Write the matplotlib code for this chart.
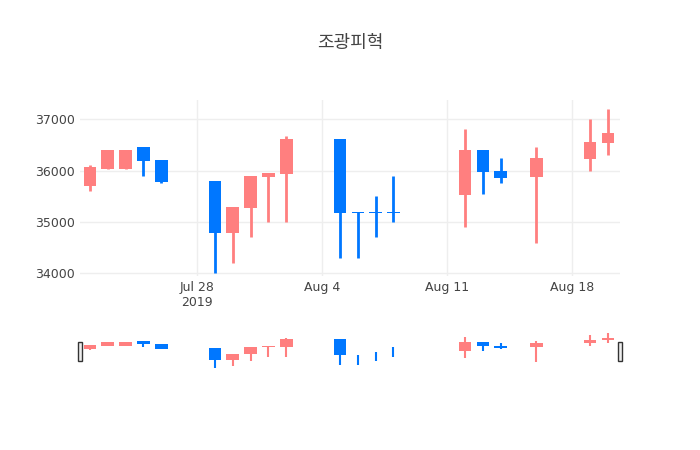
import datetime as dt
import matplotlib
matplotlib.use("Agg")
import matplotlib.pyplot as plt
import matplotlib.dates as mdates

dates = ["2019-07-22", "2019-07-23", "2019-07-24", "2019-07-25", "2019-07-26",
         "2019-07-29", "2019-07-30", "2019-07-31", "2019-08-01", "2019-08-02",
         "2019-08-05", "2019-08-06", "2019-08-07", "2019-08-08",
         "2019-08-12", "2019-08-13", "2019-08-14", "2019-08-16",
         "2019-08-19", "2019-08-20"]
opens = [35700, 36020, 36020, 36450, 36200, 35800, 34780, 35270, 35880, 35930,
         36610, 35200, 35200, 35200, 35530, 36400, 36000, 35870, 36230, 36530]
highs = [36100, 36400, 36400, 36450, 36200, 35800, 35300, 35900, 35960, 36680,
         36610, 35200, 35500, 35900, 36800, 36400, 36250, 36450, 37000, 37200]
lows = [35600, 36020, 36020, 35900, 35750, 34000, 34200, 34700, 35000, 35000,
        34300, 34300, 34700, 35000, 34900, 35550, 35750, 34600, 36000, 36300]
closes = [36070, 36400, 36400, 36180, 35770, 34780, 35300, 35900, 35960, 36610,
          35180, 35180, 35180, 35180, 36400, 35980, 35850, 36250, 36550, 36720]

UP = "#ff7f7f"
DOWN = "#0077ff"
x = [mdates.date2num(dt.datetime.strptime(d, "%Y-%m-%d")) for d in dates]
ref = mdates.date2num(dt.datetime(2019, 7, 28))
xlim = (ref - 6.55, ref + 23.68)

fig = plt.figure(figsize=(7, 4.5), dpi=100)
fig.text(0.5, 1 - 43 / 450, "조광피혁", ha="center", va="center", fontsize=13,
         color="#444444", family=["Noto Sans CJK KR", "DejaVu Sans"])


def draw(ax, lw_wick, min_body, w=0.7):
    for xi, o, h, l, c in zip(x, opens, highs, lows, closes):
        col = UP if c >= o else DOWN
        ax.plot([xi, xi], [l, h], color=col, lw=lw_wick, solid_capstyle="butt", zorder=2)
        ax.bar(xi, max(abs(c - o), min_body), bottom=min(o, c), width=w, color=col, zorder=3)


ax = fig.add_axes([80 / 700, 1 - 276 / 450, 540 / 700, 176 / 450])
draw(ax, 2, 15)
ax.set_xlim(*xlim)
ax.set_ylim(33950, 37370)
ax.set_yticks([34000, 35000, 36000, 37000])
ticks = [ref, ref + 7, ref + 14, ref + 21]
ax.set_xticks(ticks)
ax.set_xticklabels(["Jul 28\n2019", "Aug 4", "Aug 11", "Aug 18"])
ax.grid(True, color="#eeeeee", lw=1, zorder=0)
for s in ax.spines.values():
    s.set_visible(False)
ax.tick_params(length=0, colors="#444444", labelsize=9)

rs = fig.add_axes([80 / 700, 1 - 369 / 450, 540 / 700, 37 / 450])
draw(rs, 1.5, 60)
rs.set_xlim(*xlim)
rs.set_ylim(33950, 37250)
rs.set_xticks([])
rs.set_yticks([])
for s in rs.spines.values():
    s.set_visible(False)
for xe in xlim:
    rs.add_patch(plt.Rectangle((xe - 0.12, 33950 + 3300 * 0.22), 0.24, 3300 * 0.5,
                               facecolor="#eeeeee", edgecolor="#333333", lw=1,
                               clip_on=False, zorder=5))

fig.savefig("out.png", dpi=100)
